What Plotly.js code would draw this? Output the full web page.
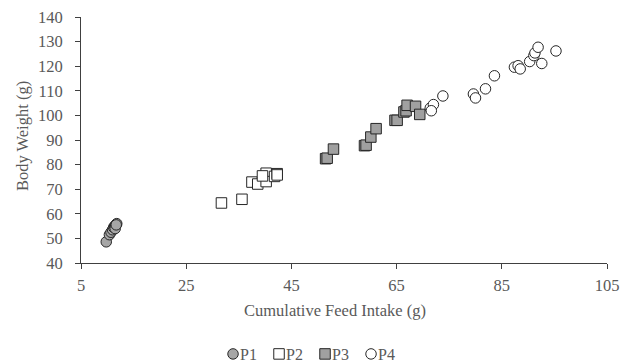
<!DOCTYPE html>
<html>
<head>
<meta charset="utf-8">
<script src="https://cdn.plot.ly/plotly-3.0.1.min.js"></script>
<style>html,body{margin:0;padding:0;background:#fff;}#chart{width:632px;height:362px;}</style>
</head>
<body>
<div id="chart"></div>
<script>
const p1X = [9.8, 10.4, 10.7, 11.0, 11.2, 11.4, 11.6, 11.8, 11.5, 11.7];
const p1Y = [48.6, 51.5, 52.5, 53.5, 54.5, 55.0, 55.5, 56.0, 54.0, 55.5];
const p2X = [31.7, 35.6, 37.5, 38.6, 40.2, 40.2, 39.5, 41.8, 42.3, 42.3];
const p2Y = [64.4, 65.9, 72.9, 72.1, 76.5, 73.1, 75.4, 75.2, 76.3, 75.8];
const p3X = [51.5, 51.8, 53.0, 58.9, 59.2, 60.1, 61.1, 64.7, 65.1, 66.4, 66.8, 67.0, 68.6, 69.4];
const p3Y = [82.4, 82.6, 86.3, 87.7, 87.9, 91.2, 94.6, 98.0, 98.0, 101.4, 101.9, 104.1, 103.7, 100.4];
const p4X = [71.4, 72.0, 71.6, 73.8, 79.6, 80.0, 81.9, 83.6, 87.4, 88.1, 88.5, 90.3, 91.1, 91.3, 91.9, 92.6, 95.3];
const p4Y = [103.0, 104.4, 101.9, 107.9, 108.7, 107.1, 110.8, 116.1, 119.6, 120.2, 118.9, 121.9, 124.3, 125.4, 127.7, 121.1, 126.2];
const xTicks = [5, 25, 45, 65, 85, 105];
const yTicks = [40, 50, 60, 70, 80, 90, 100, 110, 120, 130, 140];
const xTitle = 'Cumulative Feed Intake (g)';
const yTitle = 'Body Weight (g)';

const serif = "Liberation Serif, Times New Roman, serif";
const fs = 16.5;
const grey = '#595959';
function tr(name, x, y, symbol, fill) {
  return {
    type: 'scatter', mode: 'markers', name: name, x: x, y: y,
    marker: {symbol: symbol, size: 10.5, color: fill, line: {color: '#262626', width: 1}}
  };
}
const data = [
  tr('P1', p1X, p1Y, 'circle', '#a6a6a6'),
  tr('P2', p2X, p2Y, 'square', '#ffffff'),
  tr('P3', p3X, p3Y, 'square', '#a0a0a0'),
  tr('P4', p4X, p4Y, 'circle', '#ffffff')
];
const layout = {
  width: 632, height: 362,
  margin: {l: 81, r: 25, t: 17, b: 99, autoexpand: false},
  paper_bgcolor: '#fff', plot_bgcolor: '#fff',
  showlegend: true,
  font: {family: serif, size: fs, color: grey},
  xaxis: {
    range: [5, 105], tickvals: xTicks, ticktext: xTicks.map(String),
    showgrid: false, zeroline: false, showline: true, linecolor: '#404040', linewidth: 1,
    ticks: 'outside', ticklen: 5, tickcolor: '#404040', ticklabelstandoff: 2,
    automargin: false
  },
  yaxis: {
    range: [40, 140], tickvals: yTicks, ticktext: yTicks.map(String),
    showgrid: false, zeroline: false, showline: true, linecolor: '#404040', linewidth: 1,
    ticks: 'outside', ticklen: 5, tickcolor: '#404040', ticklabelstandoff: 9,
    automargin: false
  },
  annotations: [
    {text: xTitle, xref: 'paper', yref: 'paper', x: 0.4835, y: 0, yshift: -47,
     xanchor: 'center', yanchor: 'middle', showarrow: false, font: {family: serif, size: fs, color: grey}},
    {text: yTitle, xref: 'paper', yref: 'paper', x: 0, xshift: -59, y: 0.516, textangle: -90,
     xanchor: 'center', yanchor: 'middle', showarrow: false, font: {family: serif, size: fs, color: grey}}
  ],
  legend: {
    orientation: 'h', x: 0.3165, xanchor: 'left', xref: 'container',
    y: 0.022, yanchor: 'middle', yref: 'container',
    font: {family: serif, size: 16, color: grey}, itemwidth: 30, tracegroupgap: 0,
    entrywidth: 1, entrywidthmode: 'pixels'
  }
};
Plotly.newPlot('chart', data, layout, {displayModeBar: false, staticPlot: true}).then(function () {
  document.querySelectorAll('.legend .legendpoints path').forEach(function (p) {
    p.setAttribute('transform', 'translate(33,0)');
    p.style.strokeWidth = '1px';
  });
  document.querySelectorAll('.legend [clip-path]').forEach(function (g) {
    g.removeAttribute('clip-path');
  });
});
</script>
</body>
</html>
